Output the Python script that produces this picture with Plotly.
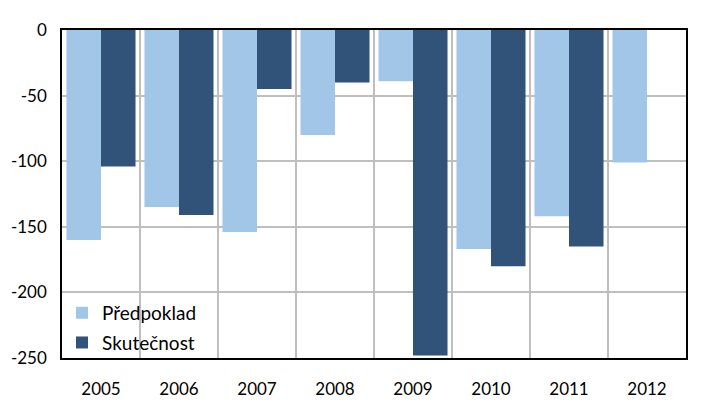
import plotly.graph_objects as go

years = ["2005", "2006", "2007", "2008", "2009", "2010", "2011", "2012"]
predpoklad = [-160, -135, -154, -80, -39, -167, -142, -101]
skutecnost = [-104, -141, -45, -40, -248, -180, -165, None]
y_ticks = [0, -50, -100, -150, -200, -250]

LIGHT = "#A1C6E7"
DARK = "#31537A"
FONT = "Lato"

fig = go.Figure()
fig.add_trace(go.Bar(x=years, y=predpoklad, name="Předpoklad",
                     marker=dict(color=LIGHT, line=dict(width=0)), legendgroup="a"))
fig.add_trace(go.Bar(x=years, y=skutecnost, name="Skutečnost",
                     marker=dict(color=DARK, line=dict(width=0)), legendgroup="b"))

W, H = 711, 412
ml, mr, mt, mb = 62, 25, 29.5, 54
pw = W - ml - mr
ph = H - mt - mb

fig.update_layout(
    width=W, height=H,
    margin=dict(l=ml, r=mr, t=mt, b=mb, pad=0, autoexpand=False),
    paper_bgcolor="white", plot_bgcolor="white",
    barmode="group", bargap=0.115, bargroupgap=0,
    font=dict(family=FONT, size=17, color="black"),
    showlegend=True,
    legend=dict(x=0.0, y=-0.012, xanchor="left", yanchor="bottom",
                bgcolor="rgba(0,0,0,0)", borderwidth=0,
                font=dict(family=FONT, size=19, color="black"),
                traceorder="grouped", tracegroupgap=2,
                itemwidth=30),
    xaxis=dict(type="category", tickson="boundaries", showgrid=True,
               gridcolor="#BFBFBF", gridwidth=1.5, ticks="",
               ticklabelstandoff=15, automargin=False,
               showline=True, linecolor="black", linewidth=1.5, mirror=True,
               tickfont=dict(family=FONT, size=17)),
    yaxis=dict(range=[-250, 0], tickvals=y_ticks, ticktext=[str(v) for v in y_ticks],
               showgrid=True, gridcolor="#BFBFBF", gridwidth=1.5, automargin=False,
               zeroline=False, ticks="", ticklabelstandoff=10,
               showline=True, linecolor="black", linewidth=1.5, mirror=True,
               tickfont=dict(family=FONT, size=17)),
)

# white legend backdrop (hides grid behind legend, keeps frame visible)
fig.add_shape(type="rect", xref="paper", yref="y", layer="between",
              x0=0, x1=143 / pw, y0=-248.5, y1=-202.5,
              fillcolor="white", line=dict(width=0))

fig.add_annotation(text="(mld. Kč)", xref="paper", yref="paper",
                   x=-(ml - 1) / pw, y=1 + (mt - 2) / ph,
                   xanchor="left", yanchor="bottom", showarrow=False,
                   font=dict(family=FONT, size=25, color="black"))

fig.write_html("out.html", config={"displayModeBar": False},
               post_script="document.body.style.margin='0';")
